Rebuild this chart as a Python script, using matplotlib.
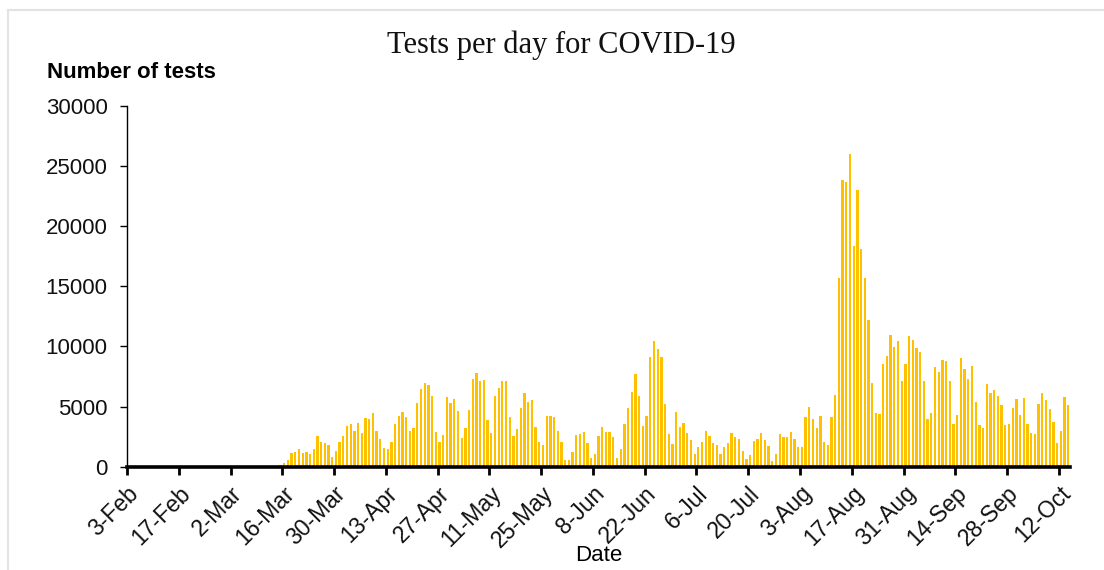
import matplotlib
matplotlib.use("Agg")
import matplotlib.pyplot as plt
from matplotlib.lines import Line2D
import pandas as pd
import numpy as np

# ---- data ----
start_date = "2020-02-03"
n_zero_days = 41  # 3-Feb .. 14-Mar: no tests
tests_from_15mar = [
    100, 280, 555, 1110, 1250, 1500, 1110, 1220, 1030, 1500,
    2555, 2055, 1970, 1780, 830, 1330, 2055, 2555, 3390, 3555,
    3000, 3670, 2830, 4030, 3950, 4500, 3000, 2330, 1580, 1500,
    2055, 3555, 4220, 4580, 4110, 3000, 3190, 5280, 6470, 6940,
    6780, 5920, 2920, 2080, 2610, 5810, 5280, 5640, 4610, 2420,
    3190, 4720, 7300, 7780, 7140, 7220, 3860, 2830, 5920, 6560,
    7140, 7140, 4140, 2555, 3110, 4890, 6110, 5360, 5560, 3300,
    2080, 1800, 4220, 4220, 4140, 3000, 2055, 555, 555, 1220,
    2640, 2720, 2890, 1970, 750, 1030, 2530, 3280, 2920, 2920,
    2440, 750, 1500, 3555, 4890, 6190, 7720, 5920, 3390, 4220,
    9110, 10420, 9780, 9110, 5250, 2720, 1890, 4530, 3280, 3670,
    2810, 2250, 1030, 1610, 2055, 3000, 2555, 1970, 1780, 1030,
    1610, 1970, 2800, 2440, 2330, 1330, 640, 940, 2170, 2330,
    2800, 2250, 1720, 470, 1030, 2720, 2440, 2440, 2920, 2330,
    1610, 1610, 4140, 4970, 3940, 3190, 4220, 2055, 1780, 4140,
    6000, 15700, 23860, 23670, 26030, 18390, 23030, 18140, 15700, 12220,
    6940, 4500, 4390, 8560, 9220, 10970, 9940, 10420, 7140, 8560,
    10890, 10500, 9860, 9500, 7140, 3940, 4500, 8330, 7890, 8890,
    8810, 7140, 3560, 4310, 9030, 8140, 7310, 8360, 5360, 3470,
    3190, 6890, 6110, 6390, 5920, 5140, 3470, 3560, 4890, 5610,
    4310, 5720, 3560, 2810, 2720, 5250, 6110, 5560, 4810, 3750,
    1970, 3000, 5810, 5140,
]
tests = [0] * n_zero_days + tests_from_15mar
dates = pd.date_range(start_date, periods=len(tests), freq="D")
y_ticks = [0, 5000, 10000, 15000, 20000, 25000, 30000]
tick_every = 14

title = "Tests per day for COVID-19"
y_label = "Number of tests"
x_label = "Date"

# ---- figure ----
W, H = 1104, 570
fig = plt.figure(figsize=(W / 100, H / 100), dpi=100)
fig.patch.set_facecolor("white")

ax = fig.add_axes([127 / W, 1 - 466.7 / H, (1070 - 127) / W, (466.7 - 106) / H])

x = np.arange(len(dates))
ax.bar(x + 0.5, tests, width=0.62, color="#FFC000", edgecolor="none", zorder=2)

ax.set_xlim(0, len(dates))
ax.set_ylim(0, 30000)

tick_pos = np.arange(0, len(dates), tick_every)
ax.set_xticks(tick_pos)
ax.set_xticklabels([f"{dates[i].day}-{dates[i].strftime('%b')}" for i in tick_pos],
                   rotation=45, ha="right", rotation_mode="anchor",
                   fontsize=16.5, family="Liberation Sans", color="#111111")
ax.set_yticks(y_ticks)
ax.set_yticklabels([str(v) for v in y_ticks], fontsize=16,
                   family="Liberation Sans", color="#111111")

for s in ["top", "right"]:
    ax.spines[s].set_visible(False)
ax.spines["left"].set_linewidth(1.0)
ax.spines["left"].set_color("black")
ax.spines["bottom"].set_linewidth(2.6)
ax.spines["bottom"].set_color("black")
ax.spines["bottom"].set_zorder(3)

ax.tick_params(axis="y", direction="out", length=5, width=1.0, pad=9)
ax.tick_params(axis="x", direction="out", length=6, width=2.0, pad=5)

ax.set_xlabel(x_label, fontsize=16, family="Liberation Sans", labelpad=-5)

fig.text(561 / W, 1 - 45 / H, title, ha="center", va="center",
         fontsize=22, family="Liberation Serif", color="#111111")
fig.text(47 / W, 1 - 73 / H, y_label, ha="left", va="center",
         fontsize=16, fontweight="bold", family="Liberation Sans", color="black")

# faint chart-area border (top and left)
fig.add_artist(Line2D([8 / W, 1], [1 - 10 / H, 1 - 10 / H], transform=fig.transFigure,
                      color="#E3E3E3", linewidth=1.5))
fig.add_artist(Line2D([8 / W, 8 / W], [0, 1 - 10 / H], transform=fig.transFigure,
                      color="#E3E3E3", linewidth=1.5))

fig.savefig("out.png", dpi=100)
